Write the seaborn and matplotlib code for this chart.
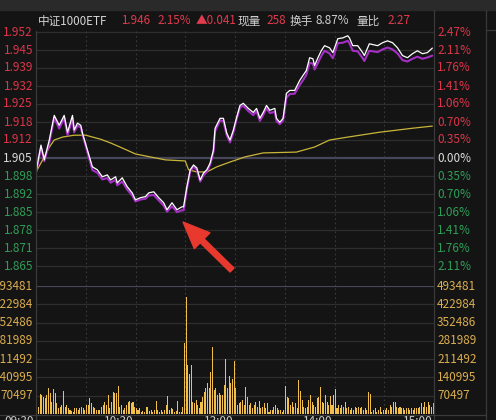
import numpy as np
import matplotlib
matplotlib.use("Agg")
import matplotlib.pyplot as plt
import matplotlib.transforms as mtransforms
from matplotlib.lines import Line2D
from matplotlib.patches import Rectangle
import seaborn as sns

# 分时数据 (minute index from 09:30, 240 minutes)
minutes = [0, 3, 5, 8, 11, 14, 17, 19, 22, 23,
           25, 27, 28, 31, 34, 37, 40, 43, 45, 48,
           49, 52, 55, 58, 60, 63, 66, 68, 71, 74,
           77, 79, 82, 85, 88, 89, 90, 91, 93, 95,
           97, 99, 101, 103, 105, 107, 108, 111, 113, 115,
           117, 119, 121, 123, 125, 128, 131, 133, 135, 137,
           139, 141, 144, 145, 147, 149, 151, 153, 156, 159,
           161, 163, 165, 167, 168, 170, 172, 174, 177, 179,
           182, 185, 188, 189, 191, 194, 197, 198, 201, 206,
           209, 212, 215, 218, 221, 224, 227, 230, 233, 236,
           239]
price = [1.8998, 1.9098, 1.9043, 1.9117, 1.9209, 1.9172, 1.9209, 1.9146, 1.9209, 1.9154,
         1.9180, 1.9172, 1.9143, 1.9080, 1.9017, 1.9006, 1.8980, 1.8987, 1.8968, 1.8980,
         1.8957, 1.8976, 1.8943, 1.8920, 1.8894, 1.8902, 1.8906, 1.8920, 1.8924, 1.8902,
         1.8883, 1.8857, 1.8883, 1.8857, 1.8868, 1.8868, 1.8906, 1.8943, 1.9006, 1.9024,
         1.9013, 1.8968, 1.8994, 1.9006, 1.9031, 1.9080, 1.9161, 1.9198, 1.9198, 1.9143,
         1.9117, 1.9154, 1.9202, 1.9246, 1.9254, 1.9235, 1.9220, 1.9235, 1.9198, 1.9220,
         1.9246, 1.9228, 1.9235, 1.9198, 1.9183, 1.9198, 1.9291, 1.9302, 1.9302, 1.9339,
         1.9358, 1.9376, 1.9424, 1.9420, 1.9395, 1.9424, 1.9450, 1.9469, 1.9461, 1.9443,
         1.9495, 1.9498, 1.9506, 1.9498, 1.9469, 1.9469, 1.9443, 1.9432, 1.9476, 1.9469,
         1.9480, 1.9487, 1.9480, 1.9461, 1.9432, 1.9424, 1.9439, 1.9450, 1.9439, 1.9443,
         1.9460]
index_line = [1.8994, 1.9090, 1.9038, 1.9105, 1.9200, 1.9160, 1.9200, 1.9135, 1.9198, 1.9146,
              1.9170, 1.9165, 1.9138, 1.9072, 1.9005, 1.8995, 1.8970, 1.8975, 1.8958, 1.8968,
              1.8948, 1.8962, 1.8932, 1.8910, 1.8888, 1.8895, 1.8898, 1.8910, 1.8912, 1.8892,
              1.8872, 1.8850, 1.8870, 1.8848, 1.8855, 1.8855, 1.8895, 1.8935, 1.9000, 1.9018,
              1.9005, 1.8962, 1.8985, 1.8998, 1.9025, 1.9072, 1.9150, 1.9190, 1.9188, 1.9135,
              1.9108, 1.9145, 1.9195, 1.9238, 1.9245, 1.9225, 1.9210, 1.9225, 1.9188, 1.9210,
              1.9235, 1.9218, 1.9222, 1.9188, 1.9176, 1.9190, 1.9275, 1.9288, 1.9290, 1.9322,
              1.9340, 1.9360, 1.9405, 1.9402, 1.9380, 1.9405, 1.9430, 1.9450, 1.9440, 1.9422,
              1.9478, 1.9480, 1.9487, 1.9478, 1.9450, 1.9448, 1.9422, 1.9412, 1.9450, 1.9445,
              1.9455, 1.9462, 1.9455, 1.9440, 1.9415, 1.9410, 1.9420, 1.9428, 1.9420, 1.9425,
              1.9432]

avg_minutes = [0, 4, 8, 11, 16, 23, 30, 39, 45, 51, 60, 69, 78, 90,
               92, 97, 103, 109, 117, 126, 137, 157, 168, 177, 188, 207, 227, 239]
avg_price = [1.8998, 1.9043, 1.9090, 1.9117, 1.9128, 1.9135, 1.9135, 1.9120, 1.9106, 1.9090,
             1.9065, 1.9054, 1.9043, 1.9039, 1.9006, 1.8998, 1.8998, 1.9017, 1.9035, 1.9054,
             1.9069, 1.9072, 1.9091, 1.9117, 1.9128, 1.9146, 1.9161, 1.9169]

# 成交量 (thousand, one bar per minute)
volume_k = [112, 28, 77, 73, 67, 60, 73, 99, 80, 48,
            95, 80, 41, 22, 28, 35, 89, 28, 35, 22,
            15, 13, 9, 22, 22, 15, 22, 28, 22, 15,
            35, 35, 60, 41, 28, 22, 15, 15, 15, 28,
            35, 48, 35, 73, 22, 48, 86, 80, 80, 108,
            28, 35, 15, 22, 35, 48, 50, 41, 48, 28,
            22, 15, 22, 9, 13, 9, 28, 28, 13, 15,
            9, 15, 50, 15, 9, 15, 9, 15, 35, 69,
            15, 22, 18, 9, 13, 50, 9, 9, 28,
            272, 451, 189, 154, 189,
            48, 41, 54, 35, 22, 48, 67, 86, 99, 118,
            99, 163, 259, 92, 99, 73, 80, 73, 73, 112,
            211, 99, 146, 118, 134, 205, 99, 35, 41, 48,
            54, 35, 105, 67, 35, 41, 22, 35, 48, 28,
            50, 22, 28, 41, 22, 41, 9, 15, 15, 28,
            35, 22, 15, 15, 9, 15, 109, 67, 60, 35,
            48, 28, 41, 22, 131, 90, 54, 28, 22, 28,
            54, 73, 48, 35, 28, 60, 67, 105, 48, 41,
            73, 48, 35, 69, 35, 73, 95, 22, 35, 22,
            35, 28, 48, 22, 28, 15, 22, 15, 28, 22,
            28, 22, 28, 15, 22, 15, 86, 77, 9, 15,
            22, 9, 15, 28, 9, 15, 15, 22, 15, 35,
            28, 48, 48, 28, 22, 28, 22, 22, 15, 22,
            22, 15, 22, 15, 22, 22, 22, 28, 41, 28,
            48, 28, 48, 35, 28, 41]

prev_close = 1.905
price_step = 0.006714
price_labels_up = ['1.912', '1.918', '1.925', '1.932', '1.939', '1.945', '1.952']
price_labels_dn = ['1.898', '1.892', '1.885', '1.878', '1.871', '1.865']
pct_labels = ['0.35%', '0.70%', '1.06%', '1.41%', '1.76%', '2.11%', '2.47%']
vol_labels = ['70497', '140995', '211492', '281989', '352486', '422984', '493481']
time_labels = ['09:30', '10:30', '13:00', '14:00', '15:00']
time_ticks = [0, 60, 120, 180, 240]

title_parts = [('中证1000ETF', 38, '#d4d4d4'), ('1.946', 121, '#e23a4e'),
               ('2.15%', 157, '#e23a4e'), ('▲0.041', 196, '#e23a4e'),
               ('现量', 238, '#cfcfcf'), ('258', 266, '#e23a4e'),
               ('换手', 290, '#cfcfcf'), ('8.87%', 316, '#cfcfcf'),
               ('量比', 356, '#cfcfcf'), ('2.27', 387, '#e23a4e')]

BG = '#141414'
GRID = '#2e2e2e'
RED = '#dd3549'
GREEN = '#2f9d57'
GOLD = '#dcae4e'

sns.set_style('dark', {'axes.facecolor': BG, 'figure.facecolor': BG})
plt.rcParams['font.family'] = ['Noto Sans CJK SC', 'DejaVu Sans']

W, H = 496, 420
fig = plt.figure(figsize=(W / 100, H / 100), dpi=100)


def fx(px):
    return px / W


def fy(py):
    return 1 - py / H


axp = fig.add_axes([fx(36), fy(286), fx(398), 255 / H])
axv = fig.add_axes([fx(36), fy(414), fx(398), 128 / H])

# price panel
axp.set_xlim(0, 240)
axp.set_ylim(prev_close - 128 / 18 * price_step, prev_close + 127 / 18 * price_step)
for k in range(-6, 8):
    if k == 0:
        axp.axhline(prev_close, color='#46465a', lw=1.6, zorder=1)
    else:
        axp.axhline(prev_close + k * price_step, color=GRID, lw=0.9, zorder=1)
for t in range(30, 240, 30):
    axp.axvline(t, color='#3a3a3a', lw=0.8, ls=(0, (1.5, 2.5)), zorder=1)
    axv.axvline(t, color='#3a3a3a', lw=0.8, ls=(0, (1.5, 2.5)), zorder=1)

sns.lineplot(x=avg_minutes, y=avg_price, ax=axp, color='#c9b53a', lw=0.9, zorder=3)
sns.lineplot(x=minutes, y=index_line, ax=axp, color='#a52fc6', lw=1.5, zorder=4)
sns.lineplot(x=minutes, y=price, ax=axp, color='#ffffff', lw=0.9, zorder=5)

axp.annotate('', xy=(88.7, 1.8811), xytext=(118.2, 1.8632),
             arrowprops=dict(arrowstyle='simple,head_length=1.2,head_width=1.0,tail_width=0.25',
                             color='#e8392e', mutation_scale=16, shrinkA=0, shrinkB=0))

# volume panel
vol = np.array(volume_k) * 1000
vmax = 493481
sns.barplot(x=np.arange(len(vol)) + 0.5, y=vol, ax=axv, native_scale=True,
            color='#f0bf4c', saturation=1, width=0.62, errorbar=None,
            linewidth=0, edgecolor='none', zorder=3)
axv.set_xlim(0, 240)
axv.set_ylim(0, vmax)
for i in range(1, 8):
    axv.axhline(vmax * i / 7, color='#46465a' if i == 7 else GRID,
                lw=1.6 if i == 7 else 0.9, zorder=1)

for ax in (axp, axv):
    ax.set_xticks([])
    ax.set_yticks([])
    ax.set_xlabel('')
    ax.set_ylabel('')
    ax.grid(False)
    for s in ax.spines.values():
        s.set_visible(False)

fs = 8.5
tl = mtransforms.blended_transform_factory(fig.transFigure, axp.transData)
for k, lab in enumerate(price_labels_up, start=1):
    y = prev_close + k * price_step
    fig.text(fx(33), 0, lab, transform=tl, ha='right', va='center', color=RED, fontsize=fs).set_y(y)
    fig.text(fx(437), 0, pct_labels[k - 1], transform=tl, ha='left', va='center',
             color=RED, fontsize=fs).set_y(y)
for k, lab in enumerate(price_labels_dn, start=1):
    y = prev_close - k * price_step
    fig.text(fx(33), 0, lab, transform=tl, ha='right', va='center', color=GREEN, fontsize=fs).set_y(y)
    fig.text(fx(437), 0, pct_labels[k - 1], transform=tl, ha='left', va='center',
             color=GREEN, fontsize=fs).set_y(y)
fig.text(fx(33), 0, '1.905', transform=tl, ha='right', va='center', color='#dcdcdc',
         fontsize=fs).set_y(prev_close)
fig.text(fx(437), 0, '0.00%', transform=tl, ha='left', va='center', color='#dcdcdc',
         fontsize=fs).set_y(prev_close)

tv = mtransforms.blended_transform_factory(fig.transFigure, axv.transData)
for i, lab in enumerate(vol_labels, start=1):
    y = vmax * i / 7
    fig.text(fx(33), 0, lab, transform=tv, ha='right', va='center', color=GOLD, fontsize=fs).set_y(y)
    fig.text(fx(437), 0, lab, transform=tv, ha='left', va='center', color=GOLD, fontsize=fs).set_y(y)

tt = mtransforms.blended_transform_factory(axv.transData, fig.transFigure)
for t, lab in zip(time_ticks, time_labels):
    axv.text(t - 1, fy(421.5), lab, transform=tt, ha='right', va='center',
             color='#cfcfcf', fontsize=fs, clip_on=False)

for txt, x, c in title_parts:
    fig.text(fx(x), fy(21), txt, ha='left', va='center', color=c, fontsize=8.4)

# frame lines
line_c = '#3a3a3a'
fig.add_artist(Rectangle((0, fy(10)), 1, 10 / H, transform=fig.transFigure,
                         color='#2a2a2a', zorder=0))
for x0, y0, x1, y1 in [(36, 31, 36, 420), (434, 10, 434, 420), (486, 10, 486, 420),
                       (0, 414.5, 486, 414.5), (486, 30, 496, 30)]:
    fig.add_artist(Line2D([fx(x0), fx(x1)], [fy(y0), fy(y1)], transform=fig.transFigure,
                          color=line_c, lw=0.9))

fig.savefig('out.png', dpi=100, facecolor=BG)
